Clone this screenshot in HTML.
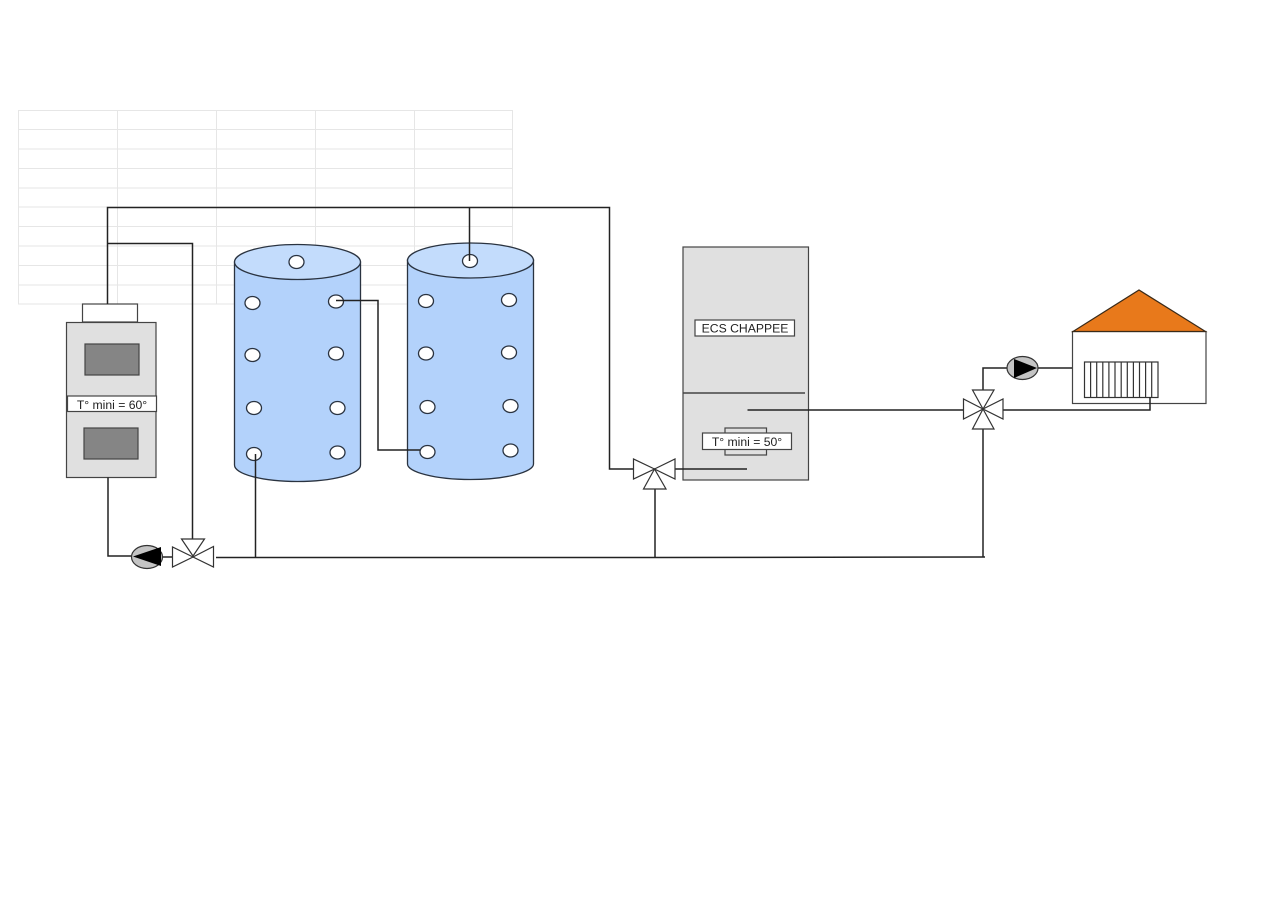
<!DOCTYPE html>
<html><head><meta charset="utf-8"><style>
html,body{margin:0;padding:0;background:#fff;width:1280px;height:906px;overflow:hidden}
svg{display:block}
text{font-family:"Liberation Sans",sans-serif;font-size:12.2px;fill:#222}
</style></head><body>
<svg width="1280" height="906" viewBox="0 0 1280 906" xmlns="http://www.w3.org/2000/svg">
<g stroke="#e6e6e6" stroke-width="1" fill="none">
<path d="M18 110.500H513M18 129.500H513M18 149H513M18 168.500H513M18 188H513M18 207H513M18 226.500H513M18 246H513M18 265.500H513M18 285H513M18 304H513"/>
<path d="M18.500 110V304M117.500 110V304M216.500 110V304M315.500 110V304M414.500 110V304M512.500 110V304"/>
</g>

<!-- tank 1 -->
<g stroke="#2a3340" stroke-width="1.300">
<path d="M234.500 262V465C234.500 474 262 481.500 297.500 481.500S360.500 474 360.500 465V262Z" fill="#b3d2fb"/>
<ellipse cx="297.500" cy="262" rx="63" ry="17.500" fill="#c3dcfc"/>
<g fill="#fff">
<ellipse cx="296.500" cy="262" rx="7.500" ry="6.500"/>
<ellipse cx="252.500" cy="303" rx="7.500" ry="6.500"/><ellipse cx="336" cy="301.500" rx="7.500" ry="6.500"/>
<ellipse cx="252.500" cy="355" rx="7.500" ry="6.500"/><ellipse cx="336" cy="353.500" rx="7.500" ry="6.500"/>
<ellipse cx="254" cy="408" rx="7.500" ry="6.500"/><ellipse cx="337.500" cy="408" rx="7.500" ry="6.500"/>
<ellipse cx="254" cy="454" rx="7.500" ry="6.500"/><ellipse cx="337.500" cy="452.500" rx="7.500" ry="6.500"/>
</g>
</g>
<!-- tank 2 -->
<g stroke="#2a3340" stroke-width="1.300">
<path d="M407.500 260V464C407.500 472 435 479.500 470.500 479.500S533.500 472 533.500 464V260Z" fill="#b3d2fb"/>
<ellipse cx="470.500" cy="260.500" rx="63" ry="17.500" fill="#c3dcfc"/>
<g fill="#fff">
<ellipse cx="470" cy="261" rx="7.500" ry="6.500"/>
<ellipse cx="426" cy="301" rx="7.500" ry="6.500"/><ellipse cx="509" cy="300" rx="7.500" ry="6.500"/>
<ellipse cx="426" cy="353.500" rx="7.500" ry="6.500"/><ellipse cx="509" cy="352.500" rx="7.500" ry="6.500"/>
<ellipse cx="427.500" cy="407" rx="7.500" ry="6.500"/><ellipse cx="510.500" cy="406" rx="7.500" ry="6.500"/>
<ellipse cx="427.500" cy="452" rx="7.500" ry="6.500"/><ellipse cx="510.500" cy="450.500" rx="7.500" ry="6.500"/>
</g>
</g>

<!-- left boiler -->
<g stroke="#444" stroke-width="1.200">
<rect x="82.500" y="304" width="55" height="18" fill="#fff"/>
<rect x="66.500" y="322.500" width="89.500" height="155" fill="#e0e0e0"/>
<rect x="85" y="344" width="54" height="31" fill="#858585"/>
<rect x="84" y="428" width="54" height="31" fill="#858585"/>
<rect x="67.500" y="396" width="89" height="15.500" fill="#fff"/>
</g>
<text x="112" y="409" text-anchor="middle">T° mini = 60°</text>

<!-- ECS tank -->
<g stroke="#444" stroke-width="1.200">
<rect x="683" y="247" width="125.500" height="233" fill="#e0e0e0"/>
<path d="M683.500 393H805" stroke-width="1.400"/>
<rect x="725" y="428" width="41.500" height="27" fill="#e0e0e0"/>
<rect x="702.500" y="433" width="89" height="16.500" fill="#fff"/>
<rect x="695" y="320" width="99.500" height="16" fill="#fff"/>
</g>
<text x="745" y="332.500" text-anchor="middle">ECS CHAPPEE</text>
<text x="747" y="446" text-anchor="middle">T° mini = 50°</text>

<!-- house -->
<rect x="1072.500" y="331.500" width="133.500" height="72" fill="#fff" stroke="#444" stroke-width="1.200"/>
<path d="M1073 331.500L1139 290L1205.500 331.500Z" fill="#e8791b" stroke="#3a2a18" stroke-width="1.200"/>
<g fill="#fff" stroke="#333" stroke-width="1.200">
<rect x="1084.500" y="362" width="73.500" height="35.500"/>
<path fill="none" d="M1090.600 362V397.500M1096.700 362V397.500M1102.800 362V397.500M1108.900 362V397.500M1115 362V397.500M1121.200 362V397.500M1127.300 362V397.500M1133.400 362V397.500M1139.500 362V397.500M1145.600 362V397.500M1151.700 362V397.500"/>
</g>

<!-- pipes -->
<g fill="none" stroke="#222" stroke-width="1.500">
<path d="M107.500 304V207.500H609.500V469H634"/>
<path d="M107 243.500H192.500V539"/>
<path d="M469.500 207.500V261"/>
<path d="M336 300.500H378V450H420"/>
<path d="M108 477.500V556H132"/>
<path d="M162 557H173"/>
<path d="M216 557.500H655L985 557"/>
<path d="M255.500 557.500V454"/>
<path d="M655 557.500V489"/>
<path d="M983 557V429"/>
<path d="M674 469H747"/>
<path d="M747.500 410H964"/>
<path d="M1003 410H1150V397"/>
<path d="M983 390V368H1008"/>
<path d="M1038 368H1072"/>
</g>

<!-- left pump -->
<ellipse cx="147" cy="557" rx="15.500" ry="11.500" fill="#c4c4c4" stroke="#333" stroke-width="1.200"/>
<path d="M133 556.500L161 547V566Z" fill="#000"/>
<!-- left valve -->
<g fill="#fff" stroke="#333" stroke-width="1.200">
<path d="M193 556L181.500 539H204.500Z"/>
<path d="M193 557L172.500 547V567Z"/>
<path d="M193 557L213.500 546.500V567Z"/>
</g>

<!-- middle valve -->
<g fill="#fff" stroke="#333" stroke-width="1.200">
<path d="M654.500 469L633.500 459V479Z"/>
<path d="M654.500 469L675 459V479Z"/>
<path d="M654.500 469L643.500 489H666Z"/>
</g>

<!-- right pump -->
<ellipse cx="1022.500" cy="368" rx="15.500" ry="11.500" fill="#c4c4c4" stroke="#333" stroke-width="1.200"/>
<path d="M1037 368L1014 359V378Z" fill="#000"/>
<!-- four-way valve -->
<g fill="#fff" stroke="#333" stroke-width="1.200">
<path d="M983 409L972.500 390H994Z"/>
<path d="M983 409L972.500 429H994Z"/>
<path d="M983 409L963.500 399V419Z"/>
<path d="M983 409L1003 399V419Z"/>
</g>
</svg>
</body></html>
